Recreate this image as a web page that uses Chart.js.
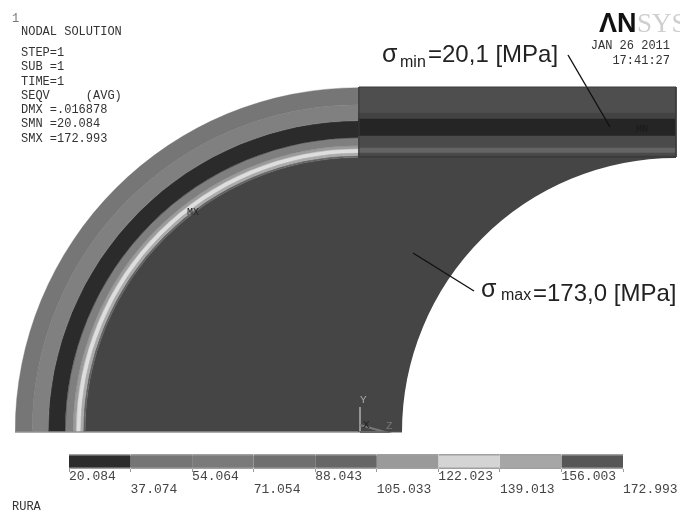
<!DOCTYPE html>
<html>
<head>
<meta charset="utf-8">
<title>RURA</title>
<script src="https://cdn.jsdelivr.net/npm/chart.js@4"></script>
<style>
  html, body { margin: 0; background: #fff; }
  #plot { position: relative; width: 680px; height: 512px; overflow: hidden; filter: blur(0.45px); }
  canvas { position: absolute; }
</style>
</head>
<body>
<div id="plot">
  <canvas id="bend" width="344" height="345" style="left:15px;top:87px"></canvas>
  <canvas id="straight" width="318" height="345" style="left:358px;top:87px"></canvas>
  <canvas id="hole" width="274" height="274" style="left:402px;top:158px"></canvas>
  <canvas id="scale" width="680" height="60" style="left:0;top:450px"></canvas>
  <canvas id="notes" width="680" height="512" style="left:0;top:0"></canvas>
</div>
<script>
// band widths of the pipe wall, outside to inside
const bendWidths = [17, 16, 17, 8, 3, 4, 3, 2, 274];
const bendColors = ['#767676', '#808080', '#2b2b2b', '#7f7f7f', '#9c9c9c', '#dedede', '#aaaaaa', '#606060', '#454545'];

// straight part, bottom to top
const straightWidths = [274, 2, 3, 5, 12, 17, 6, 26];
const straightColors = ['#454545', '#3c3c3c', '#4a4a4a', '#646464', '#4a4a4a', '#252525', '#434343', '#4e4e4e'];

const holeSize = [1];

// contour legend
const levels = [20.084, 37.074, 54.064, 71.054, 88.043, 105.033, 122.023, 139.013, 156.003, 172.993];
const levelColors = ['#2c2c2c', '#757575', '#7a7a7a', '#6f6f6f', '#666666', '#9a9a9a', '#d4d4d4', '#a6a6a6', '#565656'];

const infoLines = ['NODAL SOLUTION', 'STEP=1', 'SUB =1', 'TIME=1', 'SEQV     (AVG)', 'DMX =.016878', 'SMN =20.084', 'SMX =172.993'];
const infoRows = [32, 53, 67, 82, 96, 110, 124, 139];

const leaderMin = [{x: 568, y: 55}, {x: 610, y: 127}];
const leaderMax = [{x: 413, y: 253}, {x: 474, y: 291}];
const straightEdge = [{x: 359, y: 87}, {x: 676, y: 87}, {x: 676, y: 157}, {x: 359, y: 157}, {x: 359, y: 87}];
const bottomEdge = [{x: 15, y: 432}, {x: 402, y: 432}];
const triadY = [{x: 360, y: 407}, {x: 360, y: 432}];
const triadZ = [{x: 360, y: 425}, {x: 385, y: 432}, {x: 360, y: 432}];

Chart.defaults.animation = false;
Chart.defaults.responsive = false;
Chart.defaults.plugins.legend.display = false;
Chart.defaults.plugins.tooltip.enabled = false;

const MONO = '"Liberation Mono", monospace';
const SANS = '"Liberation Sans", sans-serif';
const SERIF = '"Liberation Serif", serif';

function ring(widths, colors) {
  return widths.map((w, i) => ({
    data: [1],
    weight: w,
    backgroundColor: colors[i],
    borderColor: colors[i],
    borderWidth: 0.4
  }));
}

new Chart(document.getElementById('bend'), {
  type: 'doughnut',
  data: {labels: ['bend'], datasets: ring(bendWidths, bendColors)},
  options: {rotation: -90, circumference: 90, cutout: 0}
});

new Chart(document.getElementById('straight'), {
  type: 'bar',
  data: {
    labels: ['straight'],
    datasets: straightWidths.map((w, i) => ({
      data: [w],
      backgroundColor: straightColors[i],
      barPercentage: 1,
      categoryPercentage: 1
    }))
  },
  options: {
    scales: {
      x: {display: false, stacked: true},
      y: {display: false, stacked: true, min: 0, max: 345}
    }
  }
});

new Chart(document.getElementById('hole'), {
  type: 'doughnut',
  data: {labels: ['hole'], datasets: [{data: holeSize, backgroundColor: '#ffffff', borderColor: '#ffffff', borderWidth: 0}]},
  options: {rotation: -90, circumference: 90, cutout: 0}
});

new Chart(document.getElementById('scale'), {
  type: 'bar',
  data: {
    labels: ['SEQV'],
    datasets: levelColors.map((c, i) => ({
      data: [[levels[i], levels[i + 1]]],
      backgroundColor: c,
      borderColor: '#a0a0a0',
      borderWidth: {top: 2, bottom: 2},
      borderSkipped: false,
      inflateAmount: 0.5,
      barPercentage: 1,
      categoryPercentage: 1,
      grouped: false
    }))
  },
  options: {
    indexAxis: 'y',
    layout: {padding: {left: 69, right: 57, top: 4, bottom: 12}},
    scales: {
      y: {display: false},
      x: {
        type: 'linear',
        min: levels[0],
        max: levels[levels.length - 1],
        afterBuildTicks: (axis) => { axis.ticks = levels.map(v => ({value: v})); },
        afterFit: (axis) => { axis.height = 29; },
        border: {display: false},
        grid: {drawOnChartArea: false, drawTicks: true, tickLength: 3, color: '#999999'},
        ticks: {
          autoSkip: false,
          maxRotation: 0,
          align: 'start',
          padding: -2,
          color: '#444444',
          font: {family: MONO, size: 13, lineHeight: 1},
          callback: (v, i) => i % 2 === 0 ? [levels[i].toFixed(3), ' '] : [' ', levels[i].toFixed(3)]
        }
      }
    }
  }
});

const textNotes = {
  id: 'textNotes',
  afterDatasetsDraw(chart) {
    const c = chart.ctx;
    const put = (s, x, y, font, color, align) => {
      c.font = font;
      c.fillStyle = color;
      c.textAlign = align || 'left';
      c.textBaseline = 'alphabetic';
      c.fillText(s, x, y);
    };
    c.save();
    const mono = '12px ' + MONO;
    put('1', 12, 22, mono, '#777777');
    infoLines.forEach((s, i) => put(s, 21, infoRows[i] + 3, mono, '#333333'));
    put('RURA', 12, 510, mono, '#333333');

    put('\u039bN', 599, 32, 'bold 27px ' + SANS, '#111111');
    put('SYS', 637, 32, '27px ' + SERIF, '#cfcfcf');
    put('JAN 26 2011', 670, 49, mono, '#333333', 'right');
    put('17:41:27', 670, 64, mono, '#333333', 'right');

    put('\u03c3', 382, 62, '25px ' + SANS, '#222222');
    put('min', 400, 67, '16px ' + SANS, '#222222');
    put('=20,1 [MPa]', 428, 62, '24px ' + SANS, '#222222');
    put('\u03c3', 481, 297, '25px ' + SANS, '#222222');
    put('max', 501, 300, '16px ' + SANS, '#222222');
    put('=173,0 [MPa]', 533, 301, '24px ' + SANS, '#222222');

    put('MX', 187, 215, '10px ' + MONO, '#222222');
    put('MN', 636, 132, '10px ' + MONO, '#1a1a1a');
    put('Y', 360, 403, '11px ' + MONO, '#aaaaaa');
    put('X', 363, 428, '11px ' + MONO, '#1f1f1f');
    put('Z', 386, 429, '11px ' + MONO, '#777777');
    c.restore();
  }
};

function path(points, color, width) {
  return {data: points, showLine: true, pointRadius: 0, borderColor: color, borderWidth: width, fill: false, tension: 0};
}

new Chart(document.getElementById('notes'), {
  type: 'scatter',
  data: {
    datasets: [
      path(straightEdge, '#3a3a3a', 1),
      path(bottomEdge, '#5a5a5a', 1),
      path(triadZ, '#777777', 2),
      path(triadY, '#b0b0b0', 1.5),
      path(leaderMin, '#111111', 1.4),
      path(leaderMax, '#111111', 1.4)
    ]
  },
  options: {
    scales: {
      x: {display: false, min: 0, max: 680},
      y: {display: false, min: 0, max: 512, reverse: true}
    }
  },
  plugins: [textNotes]
});
</script>
</body>
</html>
